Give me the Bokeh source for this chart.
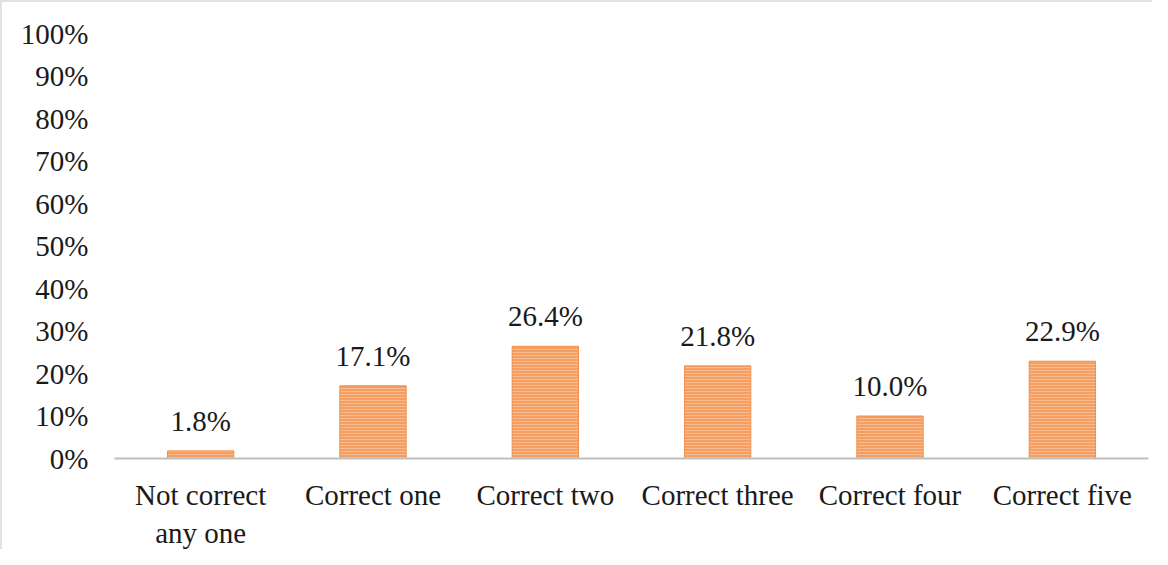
from bokeh.plotting import figure
from bokeh.models import ColumnDataSource, Range1d, FixedTicker, CustomJSTickFormatter
from bokeh.core.properties import value
from bokeh.embed import file_html
from bokeh.resources import INLINE

categories = ["Not correct\nany one", "Correct one", "Correct two", "Correct three", "Correct four", "Correct five"]
values = [1.8, 17.1, 26.4, 21.8, 10.0, 22.9]
value_labels = ["1.8%", "17.1%", "26.4%", "21.8%", "10.0%", "22.9%"]
y_ticks = [0, 10, 20, 30, 40, 50, 60, 70, 80, 90, 100]

FONT = "'Liberation Serif', 'Times New Roman', 'DejaVu Serif', serif"
TXT = "#1a1a1a"
FS = "29px"

src = ColumnDataSource(dict(cat=categories, val=values, lab=value_labels))

p = figure(x_range=categories, y_range=Range1d(0, 100), width=1152, height=549,
           output_backend="svg", toolbar_location=None,
           min_border_left=112, min_border_right=6, min_border_top=31, min_border_bottom=80)
p.styles = {"border-top": "2px solid #e2e2e2", "border-left": "2px solid #e2e2e2"}

p.vbar(x="cat", top="val", width=0.385, source=src,
       fill_color="#F59E62", line_color="#F0924F", line_width=1,
       hatch_pattern="horizontal_line", hatch_color="#F8BC92", hatch_scale=3, hatch_weight=1)

p.text(x="cat", y="val", text="lab", source=src, y_offset=-14,
       text_align="center", text_baseline="bottom",
       text_font=value(FONT), text_font_size=FS, text_color=TXT)

p.outline_line_color = None
p.xgrid.grid_line_color = None
p.ygrid.grid_line_color = None

p.yaxis.ticker = FixedTicker(ticks=y_ticks)
p.yaxis.formatter = CustomJSTickFormatter(code="return tick.toFixed(0) + '%';")
p.yaxis.axis_line_color = None
p.yaxis.major_tick_line_color = None
p.yaxis.minor_tick_line_color = None
p.yaxis.major_tick_out = 0
p.yaxis.major_tick_in = 0
p.yaxis.major_label_standoff = 26
p.yaxis.major_label_text_font = FONT
p.yaxis.major_label_text_font_size = FS
p.yaxis.major_label_text_color = TXT

p.xaxis.axis_line_color = "#C0C0C0"
p.xaxis.axis_line_width = 2
p.xaxis.major_tick_line_color = None
p.xaxis.minor_tick_line_color = None
p.xaxis.major_tick_out = 0
p.xaxis.major_tick_in = 0
p.xaxis.major_label_standoff = 20
p.xaxis.major_label_text_font = FONT
p.xaxis.major_label_text_font_size = FS
p.xaxis.major_label_text_color = TXT
p.x_range.range_padding = 0

open("out.html", "w").write(file_html(p, INLINE))
